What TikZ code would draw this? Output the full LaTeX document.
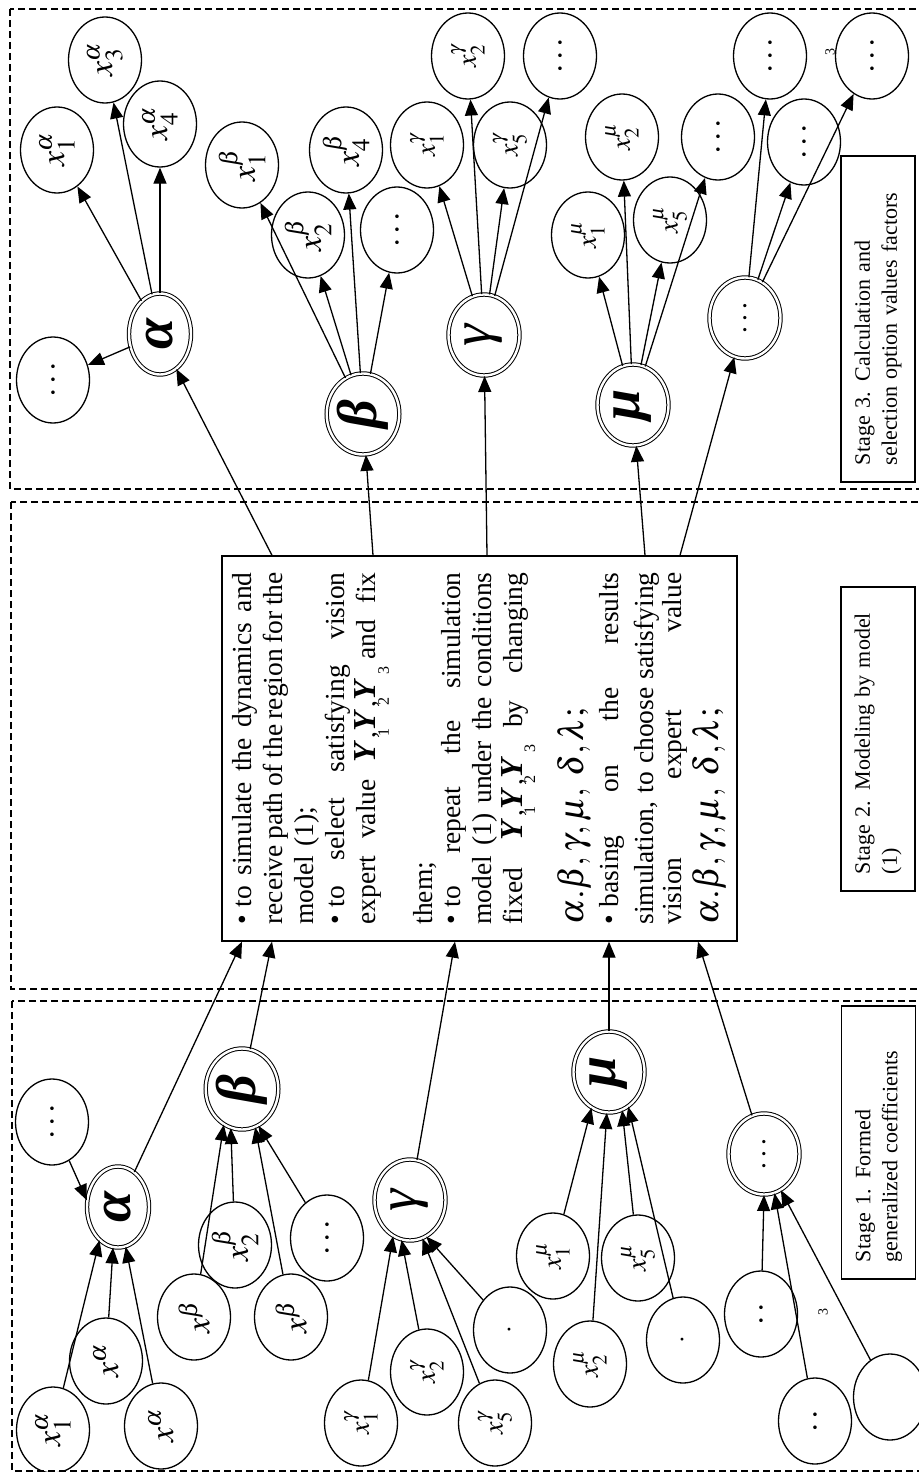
\documentclass[tikz,border=0pt]{standalone}
\usepackage{mathptmx}
\usepackage{fontspec}
\setmainfont{Liberation Serif}
\usetikzlibrary{shapes.geometric, arrows.meta, calc}
\newcommand{\jline}[1]{\makebox[352pt][s]{\spaceskip=.25em plus 1fil minus .05em\relax #1}}
\newcommand{\bul}{\textbullet\hspace{.28em}}
\newcommand{\Yvar}[1]{{\fontsize{32}{32}\selectfont\bfseries\itshape Y}\,\rlap{\raisebox{-13pt}{\fontsize{16}{16}\selectfont\hspace{2pt}#1}}}
\newcommand{\coefline}{{\fontsize{35}{35}\selectfont$\alpha.\beta,\gamma,\mu,\;\delta,\lambda;$}}
\tikzset{
  leaf/.style={
    ellipse, draw, line width=1.3pt,
    minimum width=86pt, minimum height=73pt, inner sep=0pt,
    rotate=90, font=\fontsize{34}{34}\selectfont,
  },
  leafs/.style={leaf, font=\fontsize{28}{28}\selectfont},
  coef/.style={
    ellipse, draw, double, double distance=2.4pt, line width=1pt,
    minimum width=81pt, minimum height=71pt, inner sep=0pt,
    rotate=90, font=\fontsize{56}{56}\selectfont\bfseries\itshape,
  },
  coefa/.style={coef, minimum height=62pt},
  coefthin/.style={coef, font=\fontsize{56}{56}\selectfont\itshape},
  coefdots/.style={coef, font=\fontsize{32}{32}\selectfont},
  textbox/.style={
    draw, line width=1.3pt, rotate=90,
    minimum width=385pt, minimum height=515pt, text width=352pt,
    align=left, inner sep=0pt, font=\fontsize{27.5}{31}\selectfont,
  },
  stagebox/.style={
    draw, line width=1.3pt, rotate=90, minimum height=74pt,
    align=left, inner sep=0pt, font=\fontsize{22}{27}\selectfont,
  },
  frame/.style={draw, line width=1.1pt, dash pattern=on 7pt off 4pt},
  tinylabel/.style={rotate=90, inner sep=0pt, font=\fontsize{14}{14}\selectfont},
  arrow/.style={-{Triangle[length=16pt,width=13pt]}, line width=1.3pt},
}
\begin{document}
\begin{tikzpicture}[x=1pt, y=-1pt]
  \useasboundingbox (0,0) rectangle (918,1472);
  % stage frames
  \draw[frame] (10,9) rectangle (940,489);
  \draw[frame] (11,502) rectangle (940,989);
  \draw[frame] (12,1001) rectangle (940,1471);
  % stage 2: the model
  \node[textbox] (box) at (479.5,748.5) {%
    \jline{\bul to simulate the dynamics and}\\
    \jline{receive path of the region for the}\\
    model (1);\\
    \jline{\bul to select satisfying vision}\\
    \jline{expert value \Yvar{1},\Yvar{2},\Yvar{3} and fix}\\[23pt]
    them;\\[-3pt]
    \jline{\bul to repeat the simulation}\\
    \jline{model (1) under the conditions}\\
    \jline{fixed \Yvar{1},\Yvar{2},\Yvar{3} by changing}\\[21pt]
    \coefline\\[4pt]
    \jline{\bul basing on the results}\\[4pt]
    \jline{simulation, to choose satisfying}\\[-3pt]
    \jline{vision expert value}\\[4pt]
    \coefline
  };
  \node[stagebox, minimum width=326pt, text width=292pt] (st3) at (878,319)
    {Stage 3. Calculation and\\selection option values factors};
  \node[stagebox, minimum width=304pt, text width=270pt] (st2) at (878,739)
    {Stage 2. Modeling by model\\(1)};
  \node[stagebox, minimum width=273pt, text width=239pt] (st1) at (878.5,1142.5)
    {Stage 1. Formed\\generalized coefficients};

  % stage 1: leaves and coefficients
  \node[coefa] (alpha1) at (118,1207) {α};
  \node[leaf] (a1d) at (52,1122) {$\dots$};
  \node[leaf] (a11) at (53,1430) {$x^{\alpha}_{1}$};
  \node[leaf] (a1b) at (106,1361) {$x^{\alpha}$};
  \node[leaf] (a1c) at (161,1426) {$x^{\alpha}$};
  \node[coef] (beta1) at (242,1089) {β};
  \node[leaf] (b1a) at (194,1317) {$x^{\beta}$};
  \node[leaf] (b12) at (235,1245) {$x^{\beta}_{2}$};
  \node[leaf] (b1c) at (291,1317) {$x^{\beta}$};
  \node[leaf] (b1d) at (327,1238) {$\dots$};
  \node[coefthin] (gamma1) at (410,1200) {γ};
  \node[leafs] (g11) at (361,1423) {$x^{\gamma}_{1}$};
  \node[leafs] (g12) at (427,1372) {$x^{\gamma}_{2}$};
  \node[leafs] (g15) at (495,1423) {$x^{\gamma}_{5}$};
  \node[leafs] (g1d) at (510,1330) {$\cdot$};
  \node[coef] (mu1) at (609,1072) {μ};
  \node[leafs] (m11) at (553,1256) {$x^{\mu}_{1}$};
  \node[leafs] (m15) at (638,1258) {$x^{\mu}_{5}$};
  \node[leafs] (m12) at (590,1364) {$x^{\mu}_{2}$};
  \node[leafs] (m1d) at (683,1340) {$\cdot$};
  \node[coefdots] (dots1) at (764,1154) {$\dots$};
  \node[leaf] (d1a) at (761,1314) {$.\,.$};
  \node[leaf] (d1b) at (815,1421) {$.\,.$};
  \node[leaf] (d1c) at (890,1397) {};
  \node[tinylabel] (three1) at (823,1312) {3};

  \draw[arrow] (a11)--(alpha1.151);
  \draw[arrow] (a1b)--(alpha1.173);
  \draw[arrow] (a1c)--(alpha1.191);
  \draw[arrow] (a1d)--(alpha1.78);
  \draw[arrow] (b1a)--(beta1.153);
  \draw[arrow] (b12)--(beta1.164);
  \draw[arrow] (b1c)--(beta1.199);
  \draw[arrow] (b1d)--(beta1.204);
  \draw[arrow] (g11)--(gamma1.155);
  \draw[arrow] (g12)--(gamma1.168);
  \draw[arrow] (g15)--(gamma1.198);
  \draw[arrow] (g1d)--(gamma1.204);
  \draw[arrow] (m11)--(mu1.154);
  \draw[arrow] (m12)--(mu1.177);
  \draw[arrow] (m15)--(mu1.199);
  \draw[arrow] (m1d)--(mu1.209);
  \draw[arrow] (d1a)--(dots1.180);
  \draw[arrow] (d1b)--(dots1.195);
  \draw[arrow] (d1c)--(dots1.205);

  % stage 1 -> model
  \draw[arrow] (alpha1)--([xshift=-237.5pt]box.west);
  \draw[arrow] (beta1)--([xshift=-207.5pt]box.west);
  \draw[arrow] (gamma1)--([xshift=-24.5pt]box.west);
  \draw[arrow] (mu1)--([xshift=129.5pt]box.west);
  \draw[arrow] (dots1)--([xshift=218.5pt]box.west);

  % stage 3: coefficients and their values
  \node[coefa] (alpha3) at (160,334) {α};
  \node[leaf] (a31) at (57,150) {$x^{\alpha}_{1}$};
  \node[leaf] (a33) at (105,60) {$x^{\alpha}_{3}$};
  \node[leaf] (a34) at (160,124) {$x^{\alpha}_{4}$};
  \node[leaf] (a3d) at (53,380) {$\dots$};
  \node[coef] (beta3) at (363,414) {β};
  \node[leaf] (b31) at (242,165) {$x^{\beta}_{1}$};
  \node[leaf] (b32) at (308,235) {$x^{\beta}_{2}$};
  \node[leaf] (b34) at (346,150) {$x^{\beta}_{4}$};
  \node[leaf] (b3d) at (397,230) {$\dots$};
  \node[coefthin] (gamma3) at (484,335) {γ};
  \node[leafs] (g31) at (427,145) {$x^{\gamma}_{1}$};
  \node[leafs] (g32) at (468,56) {$x^{\gamma}_{2}$};
  \node[leafs] (g35) at (510,145) {$x^{\gamma}_{5}$};
  \node[leaf] (g3d) at (560,56) {$\dots$};
  \node[coef] (mu3) at (633,405) {μ};
  \node[leafs] (m31) at (588,235) {$x^{\mu}_{1}$};
  \node[leafs] (m32) at (622,137) {$x^{\mu}_{2}$};
  \node[leafs] (m35) at (670,220) {$x^{\mu}_{5}$};
  \node[leaf] (m3d) at (718,137) {$\dots$};
  \node[coefdots] (dots3) at (745,318) {$\dots$};
  \node[leaf] (d3a) at (770,56) {$\dots$};
  \node[leaf] (d3b) at (804,142) {$\dots$};
  \node[leaf] (d3c) at (872,56) {$\dots$};
  \node[tinylabel] (three3) at (830,52) {3};

  % model -> stage 3
  \draw[arrow] ([xshift=-207.5pt]box.east)--(alpha3.205);
  \draw[arrow] ([xshift=-106.5pt]box.east)--(beta3);
  \draw[arrow] ([xshift=7.5pt]box.east)--(gamma3);
  \draw[arrow] ([xshift=165.5pt]box.east)--(mu3);
  \draw[arrow] ([xshift=200.5pt]box.east)--(dots3);

  \draw[arrow] (alpha3)--(a31);
  \draw[arrow] (alpha3)--(a33);
  \draw[arrow] (alpha3)--(a34);
  \draw[arrow] (alpha3)--(a3d);
  \draw[arrow] (beta3)--(b31);
  \draw[arrow] (beta3)--(b32);
  \draw[arrow] (beta3)--(b34);
  \draw[arrow] (beta3)--(b3d);
  \draw[arrow] (gamma3)--(g31);
  \draw[arrow] (gamma3)--(g32);
  \draw[arrow] (gamma3)--(g35);
  \draw[arrow] (gamma3)--(g3d);
  \draw[arrow] (mu3)--(m31);
  \draw[arrow] (mu3)--(m32);
  \draw[arrow] (mu3)--(m35);
  \draw[arrow] (mu3)--(m3d);
  \draw[arrow] (dots3)--(d3a);
  \draw[arrow] (dots3)--(d3b);
  \draw[arrow] (dots3)--(d3c);
\end{tikzpicture}
\end{document}
